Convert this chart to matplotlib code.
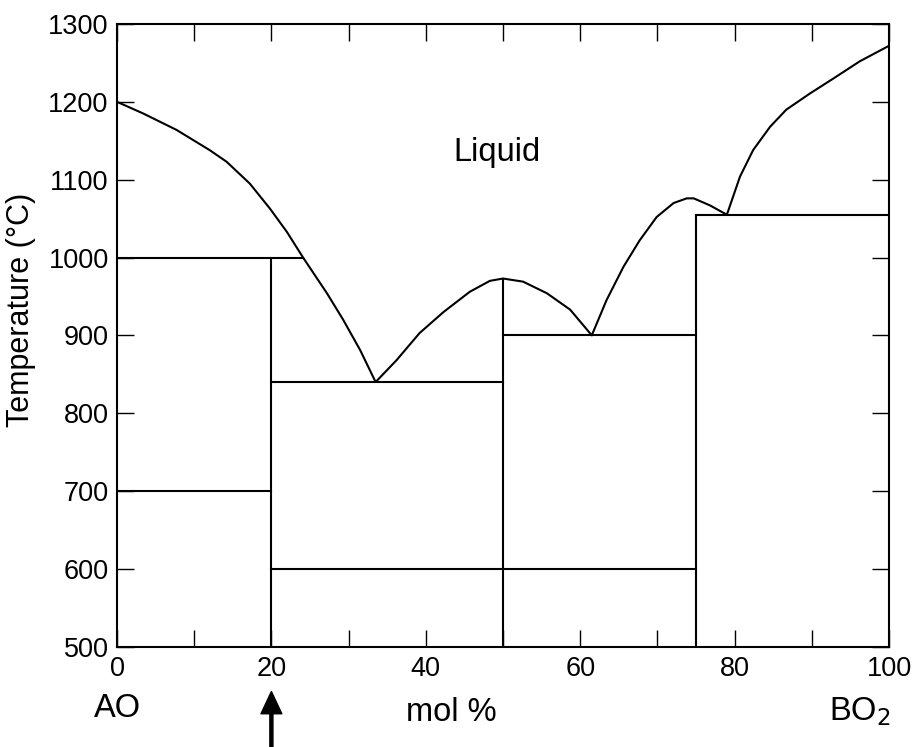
import matplotlib
matplotlib.use("Agg")
import matplotlib.pyplot as plt
from matplotlib.ticker import FixedLocator

plt.rcParams['font.family'] = ['Liberation Sans', 'DejaVu Sans']

# Liquidus curve (mol % BO2, temperature in °C)
liq_x = [0, 3.4, 7.7, 12.0, 14.2, 17.2, 19.8, 22.0, 24.1, 27.2, 29.3, 31.5, 33.5,
         36.2, 39.2, 42.3, 45.7, 48.3, 50.0, 52.6, 55.7, 58.7, 61.5,
         63.4, 65.6, 67.7, 69.9, 72.1, 73.8, 74.7, 76.8, 79.0,
         80.7, 82.4, 84.6, 86.7, 89.8, 92.8, 96.2, 100]
liq_T = [1200, 1185, 1164, 1138, 1123, 1095, 1063, 1033, 1000, 954, 920, 881, 840,
         868, 903, 930, 956, 970, 973, 969, 954, 933, 900,
         945, 988, 1022, 1052, 1070, 1076, 1076, 1067, 1055,
         1104, 1138, 1168, 1190, 1211, 1230, 1252, 1272]

# Horizontal phase boundaries
h_x0 = [0, 0, 20, 20, 50, 75]
h_x1 = [24.1, 20, 50, 75, 75, 100]
h_T = [1000, 700, 840, 600, 900, 1055]

# Vertical phase boundaries (compounds)
v_x = [20, 50, 75]
v_top = [1000, 973, 1055]

x_major = [0, 20, 40, 60, 80, 100]
x_minor = [10, 30, 50, 70, 90]
y_ticks = [500, 600, 700, 800, 900, 1000, 1100, 1200, 1300]

fig = plt.figure(figsize=(9.22, 7.47), dpi=100)
ax = fig.add_axes([117/922, 1-646.7/747, 772/922, 622.7/747])

lw = 1.5
ax.plot(liq_x, liq_T, color='black', lw=lw, solid_joinstyle='round')
for x0, x1, t in zip(h_x0, h_x1, h_T):
    ax.plot([x0, x1], [t, t], color='black', lw=lw)
for x, t in zip(v_x, v_top):
    ax.plot([x, x], [500, t], color='black', lw=lw)

ax.set_xlim(0, 100)
ax.set_ylim(500, 1300)
ax.xaxis.set_major_locator(FixedLocator(x_major))
ax.xaxis.set_minor_locator(FixedLocator(x_minor))
ax.yaxis.set_major_locator(FixedLocator(y_ticks))
ax.tick_params(which='both', direction='in', top=True, right=True,
               length=12, width=1.0, labelsize=19.5)
ax.tick_params(axis='x', which='major', pad=7)
ax.tick_params(axis='y', which='major', pad=6)
for s in ax.spines.values():
    s.set_linewidth(1.5)

ax.set_ylabel('Temperature (°C)', fontsize=22)
ax.yaxis.set_label_coords(-0.105, 0.541)

ax.text(49.2, 1135, 'Liquid', fontsize=23.5, ha='center', va='center')

ax.text(0, -0.1, 'AO', transform=ax.get_xaxis_transform(), fontsize=23.5,
        ha='center', va='center')
ax.text(43.3, -0.105, 'mol %', transform=ax.get_xaxis_transform(), fontsize=23.5,
        ha='center', va='center')
ax.text(100.2, -0.105, 'BO$_2$', transform=ax.get_xaxis_transform(), fontsize=23.5,
        ha='right', va='center')

ax.annotate('', xy=(20, -0.072), xytext=(20, -0.165),
            xycoords=('data', 'axes fraction'), textcoords=('data', 'axes fraction'),
            arrowprops=dict(facecolor='black', edgecolor='black', width=2.2,
                            headwidth=15, headlength=16, shrink=0),
            annotation_clip=False)

fig.savefig('out.png', dpi=100)
